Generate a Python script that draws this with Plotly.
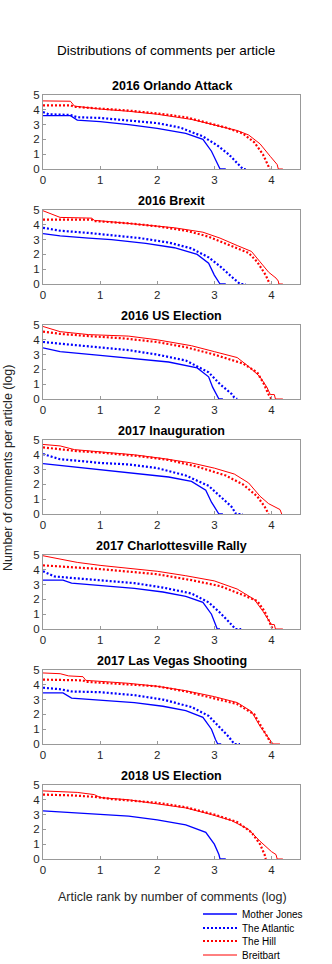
import plotly.graph_objects as go

# ---------------- data (x = log10 rank, y = log10 comments) ----------------
PANEL_TITLES = ["2016 Orlando Attack", "2016 Brexit", "2016 US Election",
                "2017 Inauguration", "2017 Charlottesville Rally",
                "2017 Las Vegas Shooting", "2018 US Election"]
SOURCES = ["Mother Jones", "The Atlantic", "The Hill", "Breitbart"]

# 2016 Orlando Attack
orl_mj = [(0, 3.6), (0.48, 3.6), (0.6, 3.3), (1.0, 3.2), (1.5, 3.0), (2.0, 2.75), (2.5, 2.4),
          (2.8, 2.0), (2.95, 1.2), (3.05, 0.4), (3.1, 0), (3.2, 0)]
orl_atl = [(0, 3.85), (0.1, 3.7), (0.48, 3.65), (0.6, 3.5), (1.0, 3.45), (1.5, 3.3), (2.0, 3.1),
           (2.4, 2.8), (2.8, 2.2), (3.05, 1.6), (3.25, 1.0), (3.4, 0.4), (3.5, 0), (3.55, 0)]
orl_hill = [(0, 4.3), (0.48, 4.3), (0.55, 4.2), (1.0, 4.1), (1.5, 3.95), (2.0, 3.75), (2.5, 3.5),
            (2.8, 3.2), (3.2, 2.8), (3.5, 2.4), (3.7, 1.8), (3.85, 1.0), (3.93, 0.4), (3.97, 0)]
orl_bb = [(0, 4.6), (0.48, 4.58), (0.55, 4.25), (1.0, 4.05), (1.5, 3.9), (2.0, 3.7), (2.6, 3.35),
          (3.0, 3.0), (3.4, 2.6), (3.6, 2.3), (3.8, 1.7), (3.98, 0.85), (4.08, 0.35),
          (4.1, 0.3), (4.12, 0), (4.2, 0)]

# 2016 Brexit
brx_mj = [(0, 3.4), (0.3, 3.25), (0.8, 3.1), (1.2, 3.0), (1.8, 2.75), (2.3, 2.45), (2.7, 2.0),
          (2.9, 1.4), (3.0, 0.6), (3.1, 0), (3.2, 0)]
brx_atl = [(0, 3.8), (0.3, 3.6), (0.8, 3.45), (1.2, 3.3), (1.7, 3.1), (2.2, 2.8), (2.6, 2.4),
           (2.9, 1.8), (3.1, 1.2), (3.3, 0.5), (3.45, 0), (3.55, 0)]
brx_hill = [(0, 4.35), (0.85, 4.35), (0.9, 4.25), (1.5, 4.1), (2.0, 3.9), (2.5, 3.6), (2.9, 3.2),
            (3.3, 2.6), (3.6, 2.1), (3.75, 1.5), (3.9, 0.6), (3.97, 0)]
brx_bb = [(0, 4.95), (0.3, 4.5), (0.85, 4.45), (0.9, 4.3), (1.2, 4.2), (1.8, 4.0), (2.3, 3.8),
          (2.8, 3.5), (3.1, 3.1), (3.4, 2.6), (3.65, 2.2), (3.8, 1.5), (3.95, 0.8),
          (4.08, 0.4), (4.12, 0.2), (4.13, 0), (4.2, 0)]

# 2016 US Election
use_mj = [(0, 3.45), (0.3, 3.2), (1.0, 2.95), (1.6, 2.75), (2.2, 2.5), (2.7, 2.1), (2.9, 1.5),
          (2.97, 0.8), (3.05, 0.2), (3.08, 0), (3.15, 0)]
use_atl = [(0, 3.85), (0.5, 3.65), (1.0, 3.5), (1.5, 3.3), (2.0, 3.0), (2.5, 2.6), (2.9, 1.8),
           (3.1, 1.0), (3.3, 0.35), (3.35, 0.1), (3.4, 0)]
use_hill = [(0, 4.55), (0.3, 4.4), (0.8, 4.25), (1.4, 4.1), (2.0, 3.85), (2.5, 3.5), (3.0, 3.0),
            (3.5, 2.4), (3.75, 1.8), (3.87, 1.0), (3.95, 0.3), (4.0, 0)]
use_bb = [(0, 4.9), (0.3, 4.55), (0.8, 4.35), (1.5, 4.25), (2.0, 4.0), (2.6, 3.6), (3.0, 3.2),
          (3.4, 2.8), (3.6, 2.2), (3.8, 1.5), (3.92, 0.8), (3.98, 0.3), (4.05, 0.3),
          (4.07, 0), (4.2, 0)]

# 2017 Inauguration
ina_mj = [(0, 3.4), (0.5, 3.2), (1.0, 3.0), (1.7, 2.75), (2.2, 2.5), (2.6, 2.2), (2.85, 1.6),
          (2.95, 0.8), (3.05, 0.2), (3.08, 0), (3.15, 0)]
ina_atl = [(0, 4.05), (0.3, 3.7), (0.6, 3.6), (1.0, 3.45), (1.5, 3.35), (2.0, 3.1), (2.5, 2.6),
           (2.9, 1.9), (3.1, 1.2), (3.3, 0.5), (3.38, 0), (3.5, 0)]
ina_hill = [(0, 4.5), (0.3, 4.35), (0.6, 4.25), (1.0, 4.15), (1.7, 3.9), (2.2, 3.65), (2.7, 3.2),
            (3.2, 2.6), (3.5, 2.0), (3.75, 1.2), (3.88, 0.5), (3.95, 0)]
ina_bb = [(0, 4.7), (0.3, 4.6), (0.55, 4.35), (1.0, 4.2), (1.6, 4.0), (2.1, 3.75), (2.6, 3.45),
          (3.0, 3.1), (3.35, 2.7), (3.6, 2.1), (3.8, 1.2), (3.95, 0.7), (4.15, 0.3),
          (4.18, 0)]

# 2017 Charlottesville Rally
cha_mj = [(0, 3.3), (0.35, 3.3), (0.5, 3.1), (1.0, 2.95), (1.6, 2.75), (2.1, 2.5), (2.5, 2.2),
          (2.8, 1.8), (2.95, 1.0), (3.02, 0.3), (3.05, 0), (3.1, 0)]
cha_atl = [(0, 3.9), (0.2, 3.55), (0.5, 3.45), (1.0, 3.3), (1.6, 3.1), (2.1, 2.8), (2.6, 2.4),
           (2.9, 1.8), (3.1, 1.1), (3.25, 0.5), (3.37, 0), (3.47, 0)]
cha_hill = [(0, 4.3), (0.3, 4.2), (0.6, 4.15), (1.0, 4.05), (1.6, 3.85), (2.0, 3.7), (2.6, 3.3),
            (3.1, 2.9), (3.5, 2.3), (3.75, 1.9), (3.88, 1.2), (3.96, 0.5), (4.02, 0)]
cha_bb = [(0, 4.95), (0.3, 4.7), (0.6, 4.5), (1.0, 4.3), (1.5, 4.1), (2.0, 3.9), (2.5, 3.6),
          (3.0, 3.25), (3.4, 2.7), (3.7, 2.0), (3.85, 1.2), (3.97, 0.5), (4.0, 0.3),
          (4.05, 0.3), (4.07, 0), (4.2, 0)]

# 2017 Las Vegas Shooting
lvs_mj = [(0, 3.45), (0.35, 3.45), (0.5, 3.1), (1.0, 2.95), (1.6, 2.8), (2.1, 2.55), (2.5, 2.25),
          (2.8, 1.8), (2.95, 1.0), (3.02, 0.3), (3.06, 0), (3.12, 0)]
lvs_atl = [(0, 3.8), (0.3, 3.7), (0.5, 3.55), (1.0, 3.5), (1.6, 3.3), (2.1, 3.0), (2.6, 2.5),
           (2.9, 1.9), (3.1, 1.1), (3.25, 0.5), (3.35, 0), (3.45, 0)]
lvs_hill = [(0, 4.35), (0.7, 4.3), (0.75, 4.2), (1.2, 4.1), (2.0, 3.9), (2.5, 3.55), (3.0, 3.1),
            (3.4, 2.7), (3.7, 2.0), (3.85, 1.0), (3.95, 0.3), (4.0, 0)]
lvs_bb = [(0, 4.8), (0.3, 4.75), (0.45, 4.6), (0.7, 4.55), (0.75, 4.3), (1.0, 4.25), (1.5, 4.1),
          (2.0, 3.9), (2.5, 3.6), (3.0, 3.2), (3.4, 2.8), (3.65, 2.2), (3.8, 1.2),
          (3.95, 0.4), (4.03, 0), (4.15, 0)]

# 2018 US Election (no The Atlantic data)
e18_mj = [(0, 3.25), (0.5, 3.15), (1.0, 3.05), (1.5, 2.9), (2.0, 2.65), (2.5, 2.3), (2.85, 1.8),
          (3.0, 1.0), (3.08, 0.3), (3.1, 0), (3.2, 0)]
e18_atl = []
e18_hill = [(0, 4.35), (0.5, 4.3), (0.9, 4.2), (1.2, 4.05), (2.0, 3.8), (2.5, 3.5), (3.0, 3.0),
            (3.4, 2.5), (3.65, 1.8), (3.8, 1.0), (3.88, 0.3), (3.9, 0)]
e18_bb = [(0, 4.6), (0.6, 4.5), (0.9, 4.35), (1.0, 4.15), (1.5, 4.0), (2.0, 3.75), (2.5, 3.45),
          (2.95, 3.0), (3.3, 2.6), (3.6, 2.0), (3.8, 1.2), (4.0, 0.5), (4.08, 0.3),
          (4.1, 0), (4.2, 0)]

PANELS = [
    [orl_mj, orl_atl, orl_hill, orl_bb],
    [brx_mj, brx_atl, brx_hill, brx_bb],
    [use_mj, use_atl, use_hill, use_bb],
    [ina_mj, ina_atl, ina_hill, ina_bb],
    [cha_mj, cha_atl, cha_hill, cha_bb],
    [lvs_mj, lvs_atl, lvs_hill, lvs_bb],
    [e18_mj, e18_atl, e18_hill, e18_bb],
]
X_TICKS = [0, 1, 2, 3, 4]
Y_TICKS = [0, 1, 2, 3, 4, 5]

# ---------------- styling ----------------
W, H = 332, 964
ML, MR = 43, 32
PW = W - ML - MR
STYLES = {
    "Mother Jones": dict(color="#0000ff", width=1.3, dash="solid"),
    "The Atlantic": dict(color="#0000ff", width=2.2, dash="2px,2px"),
    "The Hill": dict(color="#ff0000", width=2.2, dash="2px,2px"),
    "Breitbart": dict(color="#ff0000", width=1.0, dash="solid"),
}
FONT = "Liberation Sans, Arial, sans-serif"
TOP0, STEP, PH = 95, 115, 74


def px_x(p):
    return (p - ML) / PW


def px_y(p):
    return 1 - p / H


fig = go.Figure()
annotations = []
shapes = []
for i, (title, series) in enumerate(zip(PANEL_TITLES, PANELS)):
    top = TOP0 + STEP * i
    bot = top + PH
    dom = [px_y(bot), px_y(top)]
    xa = "x" if i == 0 else f"x{i+1}"
    ya = "y" if i == 0 else f"y{i+1}"
    for name, pts in zip(SOURCES, series):
        xs = [p[0] for p in pts]
        ys = [p[1] for p in pts]
        fig.add_trace(go.Scatter(
            x=xs, y=ys, mode="lines", name=name, line=STYLES[name],
            xaxis=xa, yaxis=ya, showlegend=False))
    axis_common = dict(showline=True, linecolor="#999999", linewidth=1, mirror=True,
                       ticks="inside", ticklen=3, tickcolor="#999999", showgrid=False,
                       zeroline=False, automargin=False,
                       tickfont=dict(family=FONT, size=11.5, color="#262626"))
    fig.layout[("xaxis" if i == 0 else f"xaxis{i+1}")] = go.layout.XAxis(
        domain=[0, 1], range=[0, 4.5], tickvals=X_TICKS, anchor=ya, **axis_common)
    fig.layout[("yaxis" if i == 0 else f"yaxis{i+1}")] = go.layout.YAxis(
        domain=dom, range=[0, 5], tickvals=Y_TICKS, anchor=xa, **axis_common)
    annotations.append(dict(text=f"<b>{title}</b>", x=0.5, y=dom[1], xref="paper", yref="paper",
                            yanchor="bottom", yshift=0, showarrow=False,
                            font=dict(family=FONT, size=12.5, color="#000000")))

annotations.append(dict(text="Distributions of comments per article", x=px_x(166), y=px_y(50),
                        xref="paper", yref="paper", xanchor="center", yanchor="middle",
                        showarrow=False, font=dict(family=FONT, size=13.5, color="#000000")))
annotations.append(dict(text="Article rank by number of comments (log)", x=px_x(172), y=px_y(897),
                        xref="paper", yref="paper", xanchor="center", yanchor="middle",
                        showarrow=False, font=dict(family=FONT, size=12.5, color="#262626")))
annotations.append(dict(text="Number of comments per article (log)", x=px_x(8), y=px_y(468),
                        xref="paper", yref="paper", xanchor="center", yanchor="middle",
                        textangle=-90, showarrow=False,
                        font=dict(family=FONT, size=12.5, color="#262626")))

# legend (drawn as paper-anchored samples + labels)
LEG_ROWS = [914, 928, 941, 955]
for name, row in zip(SOURCES, LEG_ROWS):
    st = STYLES[name]
    shapes.append(dict(type="line", xref="paper", yref="paper",
                       x0=px_x(203), x1=px_x(237), y0=px_y(row), y1=px_y(row),
                       line=dict(color=st["color"], width=st["width"], dash=st["dash"])))
    annotations.append(dict(text=name, x=px_x(240), y=px_y(row), xref="paper", yref="paper",
                            xanchor="left", yanchor="middle", showarrow=False,
                            font=dict(family=FONT, size=10, color="#000000")))

fig.update_layout(
    width=W, height=H, margin=dict(l=ML, r=MR, t=0, b=0, autoexpand=False),
    paper_bgcolor="white", plot_bgcolor="white",
    annotations=annotations, shapes=shapes, showlegend=False,
)
fig.write_html("out.html", config={"displayModeBar": False, "staticPlot": True},
               post_script="document.body.style.margin='0px';"
                           "document.body.style.overflow='hidden';")
